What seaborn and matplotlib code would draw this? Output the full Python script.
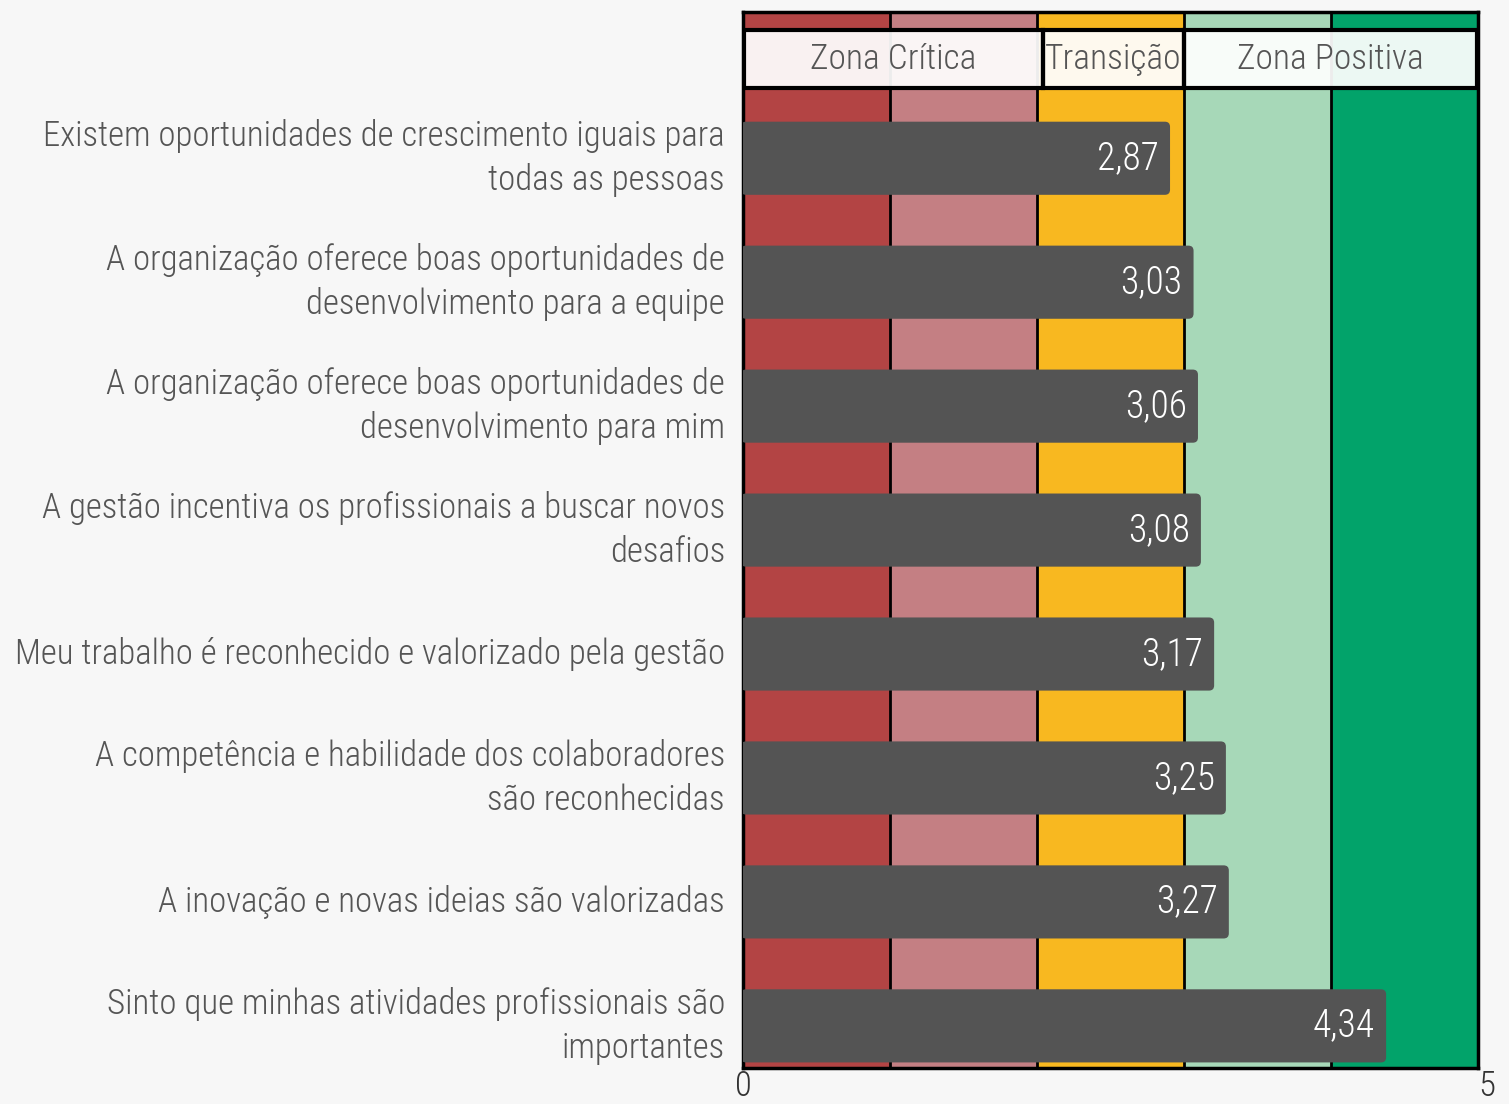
import matplotlib
matplotlib.use("Agg")
import matplotlib.pyplot as plt
import seaborn as sns
import pandas as pd
from matplotlib.patches import FancyBboxPatch, Rectangle

categories = [
    "Existem oportunidades de crescimento iguais para\ntodas as pessoas",
    "A organização oferece boas oportunidades de\ndesenvolvimento para a equipe",
    "A organização oferece boas oportunidades de\ndesenvolvimento para mim",
    "A gestão incentiva os profissionais a buscar novos\ndesafios",
    "Meu trabalho é reconhecido e valorizado pela gestão",
    "A competência e habilidade dos colaboradores\nsão reconhecidas",
    "A inovação e novas ideias são valorizadas",
    "Sinto que minhas atividades profissionais são\nimportantes",
]
values = [2.87, 3.03, 3.06, 3.08, 3.17, 3.25, 3.27, 4.34]
value_labels = ["2,87", "3,03", "3,06", "3,08", "3,17", "3,25", "3,27", "4,34"]

zone_edges = [0, 1, 2, 3, 4, 5]
zone_colors = ["#b34444", "#c47f83", "#f8b820", "#a7d8b8", "#02a36a"]
legend_names = ["Zona Crítica", "Transição", "Zona Positiva"]
legend_spans = [(0.01, 2.04), (2.04, 3.0), (3.0, 4.99)]
x_ticks = [0, 5]
x_tick_labels = ["0", "5"]

sns.set_theme(style="white")
FONT = ["Roboto Condensed", "Roboto", "DejaVu Sans"]
plt.rcParams["font.family"] = FONT
plt.rcParams["font.weight"] = "light"

BG = "#f7f7f7"
W, H = 1509, 1104
fig = plt.figure(figsize=(W / 100, H / 100), dpi=100, facecolor=BG)
ax = fig.add_axes([743 / W, (H - 1068) / H, 735 / W, 1056 / H])
ax.set_facecolor(BG)

df = pd.DataFrame({"item": categories, "value": values})
sns.barplot(data=df, x="value", y="item", orient="h", color="#545454",
            saturation=1, width=0.59, ax=ax)

ax.set_xlim(0, 5)
ax.set_ylim(7.34, -1.18)

# zones
for i, c in enumerate(zone_colors):
    ax.axvspan(zone_edges[i], zone_edges[i + 1], color=c, zorder=0, lw=0)
for x in zone_edges[1:-1]:
    ax.axvline(x, color="black", lw=2, zorder=0.5)

# rounded bars
aspect = (1 / 124) / (1 / 147)
for p in list(ax.patches):
    if isinstance(p, Rectangle) and p.get_height() < 1 and p.get_width() > 0 and p.get_zorder() >= 1:
        x0, y0, w, h = p.get_x(), p.get_y(), p.get_width(), p.get_height()
        fb = FancyBboxPatch((x0 - 0.015, y0), w + 0.05, h,
                            boxstyle="round,pad=0,rounding_size=0.035",
                            mutation_aspect=aspect,
                            facecolor="#545454", edgecolor="none", zorder=6.5)
        p.remove()
        ax.add_patch(fb)

for i, (v, lab) in enumerate(zip(values, value_labels)):
    ax.text(v - 0.04, i, lab, ha="right", va="center", color="white",
            fontsize=27, zorder=7)

# legend boxes
y_top = -1.035
y_h = 0.468
for name, (a, b) in zip(legend_names, legend_spans):
    r = Rectangle((a, y_top), b - a, y_h, facecolor="white", alpha=0.93,
                  edgecolor="none", zorder=3)
    ax.add_patch(r)
    r2 = Rectangle((a, y_top), b - a, y_h, facecolor="none",
                   edgecolor="black", lw=3, zorder=4)
    ax.add_patch(r2)
    ax.text((a + b) / 2, y_top + y_h / 2, name, ha="center", va="center",
            color="#555555", fontsize=25.5, zorder=5)

for s in ax.spines.values():
    s.set_visible(True)
    s.set_color("black")
    s.set_linewidth(2.5)
    s.set_zorder(6)

ax.set_xticks(x_ticks)
ax.set_xticklabels(x_tick_labels, fontsize=25, color="#333333")
ax.get_xticklabels()[-1].set_horizontalalignment("left")
ax.set_yticks(range(len(categories)))
ax.set_yticklabels(categories, fontsize=25, color="#555555", linespacing=1.38)
for lab in ax.get_yticklabels():
    lab.set_verticalalignment("center")
ax.tick_params(axis="both", length=0)
ax.tick_params(axis="y", pad=13)
ax.tick_params(axis="x", pad=1)
ax.set_xlabel("")
ax.set_ylabel("")

fig.savefig("out.png", dpi=100, facecolor=BG)
